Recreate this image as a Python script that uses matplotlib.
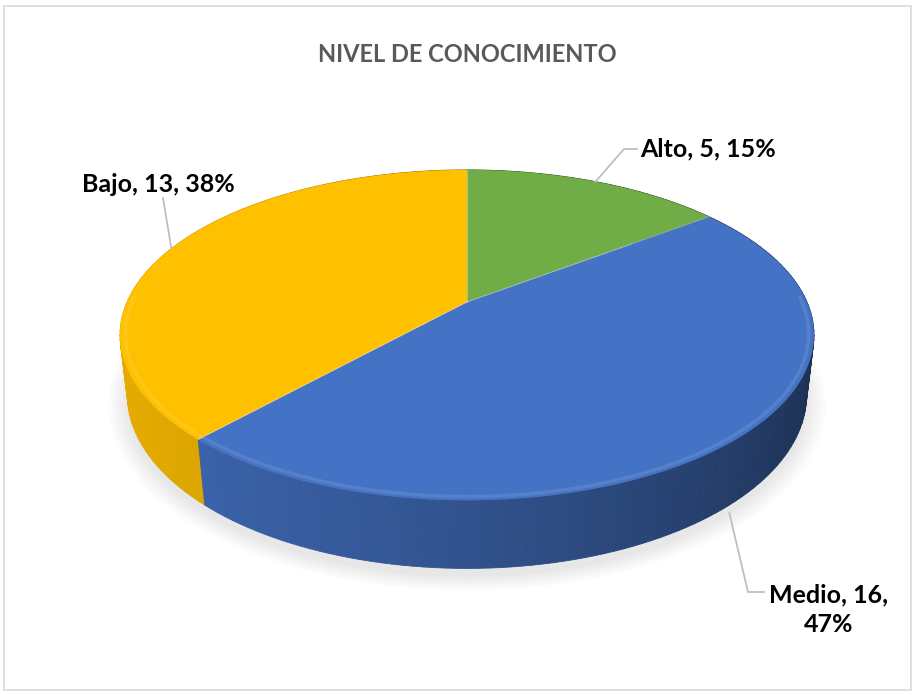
#!/usr/bin/env python

# Numbers and arrays.
import numpy as np

# Plotting.
import matplotlib.pyplot as plt
from matplotlib.patches import Polygon, Rectangle
from matplotlib.colors import to_rgb

# Data.
categories = ['Alto', 'Medio', 'Bajo']
values = [5, 16, 13]
colors = ['#70AD47', '#4472C4', '#FFC000']
title = 'NIVEL DE CONOCIMIENTO'

# Label text boxes (pixel space) and the elbow of each leader line.
label_pos = [(640, 149, 'left'), (829, 610, 'center'), (158, 184, 'center')]
label_elbow = [(624, 149), (748, 592), (163, 198)]

# View of the tilted disc.
cx, cy = 467, 302          # centre of the top face on screen
scale = 340                # radius in pixels at the centre depth
dist = 4.42                # camera distance (in radii)
elev = np.radians(27.8)    # camera elevation
thick = 0.2                # disc thickness (in radii)

plt.rcParams['font.family'] = ['Lato', 'DejaVu Sans']


def project(u, v, h):
    # u right, v away from viewer, h up.
    yc = v * np.sin(elev) + h * np.cos(elev)
    d = dist + v * np.cos(elev) - h * np.sin(elev)
    return cx + scale * dist * u / d, cy - scale * dist * yc / d


def shade(rgb, k):
    return tuple(np.clip(np.array(rgb) * k, 0, 1))


def lighten(rgb, k):
    return tuple(np.array(rgb) + (1 - np.array(rgb)) * k)


fig = plt.figure(figsize=(9.16, 6.95), dpi=100)
ax = fig.add_axes([0, 0, 1, 1])
ax.set_xlim(0, 916)
ax.set_ylim(695, 0)
ax.axis('off')

# Chart frame.
ax.add_patch(Rectangle((4, 6), 907, 684, fill=False, edgecolor='#D9D9D9', lw=1.2))

# Slice angles: start at 12 o'clock, go clockwise.
total = sum(values)
fracs = np.array(values) / total
bounds = np.concatenate([[0], np.cumsum(fracs)])
starts = np.pi / 2 - 2 * np.pi * bounds[:-1]
ends = np.pi / 2 - 2 * np.pi * bounds[1:]

# Soft shadow under the disc.
th_all = np.linspace(0, 2 * np.pi, 200)
for grow in np.linspace(1.05, 1.0, 6):
    sx, sy = project(grow * np.cos(th_all), grow * np.sin(th_all) - 0.02, -thick - 0.01)
    ax.add_patch(Polygon(np.column_stack([sx, sy]), closed=True, facecolor='#000000',
                         alpha=0.015, edgecolor='none', zorder=1))

# Side wall, split into thin strips and drawn back to front.
strips = []
for i, (a0, a1) in enumerate(zip(starts, ends)):
    n = max(int(abs(a1 - a0) / np.radians(1.5)), 2)
    th = np.linspace(a0, a1, n + 1)
    for t0, t1 in zip(th[:-1], th[1:]):
        strips.append((np.sin((t0 + t1) / 2), i, t0, t1))
strips.sort(key=lambda s: -s[0])
for _, i, t0, t1 in strips:
    tm = (t0 + t1) / 2
    k = 0.63 + 0.26 * np.cos(tm - np.radians(200))
    u = np.cos([t0, t1])
    v = np.sin([t0, t1])
    x_top, y_top = project(u, v, 0)
    x_bot, y_bot = project(u, v, -thick)
    pts = [(x_top[0], y_top[0]), (x_top[1], y_top[1]),
           (x_bot[1], y_bot[1]), (x_bot[0], y_bot[0])]
    c = shade(to_rgb(colors[i]), k)
    ax.add_patch(Polygon(pts, closed=True, facecolor=c, edgecolor=c, lw=0.6, zorder=2))

# Top faces.
for i, (a0, a1) in enumerate(zip(starts, ends)):
    th = np.linspace(a0, a1, 120)
    x, y = project(np.cos(th), np.sin(th), 0)
    pts = [project(0, 0, 0)] + list(zip(x, y))
    ax.add_patch(Polygon(pts, closed=True, facecolor=colors[i], edgecolor='none', zorder=3))

# Rounded rim highlight along the front edge.
for i, (a0, a1) in enumerate(zip(starts, ends)):
    th = np.linspace(a0, a1, 200)
    front = np.sin(th) < 0.05
    if not front.any():
        continue
    th = th[front]
    x, y = project(0.985 * np.cos(th), 0.985 * np.sin(th), 0)
    ax.plot(x, y, color=lighten(to_rgb(colors[i]), 0.2), lw=2.5, alpha=0.5,
            solid_capstyle='butt', zorder=4)

# Slice boundaries on the top face.
for a in starts:
    x, y = project(np.array([0, np.cos(a)]), np.array([0, np.sin(a)]), 0)
    ax.plot(x, y, color='white', lw=0.8, alpha=0.3, zorder=4)

# Data labels with leader lines.
for i, name in enumerate(categories):
    mid = (starts[i] + ends[i]) / 2
    h = -thick if np.sin(mid) < -0.3 else 0
    ax_, ay_ = project(np.cos(mid), np.sin(mid), h)
    ex, ey = label_elbow[i]
    tx, ty, ha = label_pos[i]
    if ha == 'left':
        line_x, line_y = [ax_, ex, tx - 3], [ay_, ey, ey]
    elif i == 1:
        line_x, line_y = [ax_, ex, 764], [ay_ + 8, ey, ey]
    else:
        line_x, line_y = [ax_, ex], [ay_, ey]
    ax.plot(line_x, line_y, color='#BFBFBF', lw=1.3, zorder=5)
    pct = round(100 * values[i] / total)
    if i == 1:
        text = f'{name}, {values[i]},\n{pct}%'
    else:
        text = f'{name}, {values[i]}, {pct}%'
    ax.text(tx, ty, text, ha=ha, va='center', fontsize=18, fontweight='bold',
            color='#000000', linespacing=1.35, zorder=6)

# Title.
ax.text(467, 55, title, ha='center', va='center', fontsize=17, fontweight='bold',
        color='#595959')

fig.savefig('out.png', dpi=100)
